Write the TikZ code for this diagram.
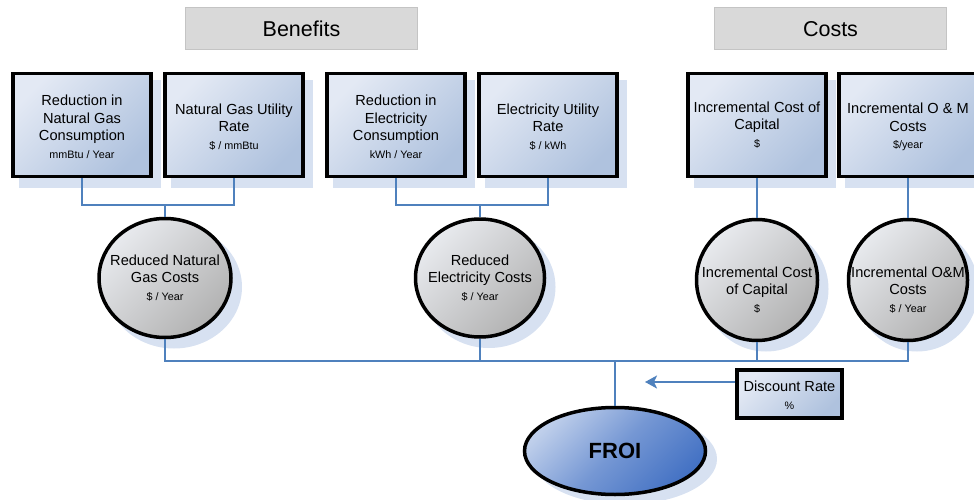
\documentclass[tikz,border=0pt]{standalone}
\usepackage{fontspec}
\setmainfont{Liberation Sans}
\usetikzlibrary{shapes.geometric,arrows.meta}
\definecolor{linkblue}{HTML}{4F81BD}
\definecolor{shadowblue}{HTML}{D7E1F1}
\definecolor{boxlight}{HTML}{E3E9F4}
\definecolor{boxdark}{HTML}{AFC2DE}
\definecolor{disklight}{HTML}{E8EAEE}
\definecolor{diskdark}{HTML}{B2B2B2}
\definecolor{froilight}{HTML}{BFCFEB}
\definecolor{froidark}{HTML}{4472C4}
\definecolor{headfill}{HTML}{D9D9D9}
\definecolor{headline}{HTML}{C4C4C4}
\newcommand{\unitline}[1]{{\fontsize{10.8}{13}\selectfont #1}}
\tikzset{
  inputbox/.style={rectangle, draw=black, line width=3.5pt, inner sep=0pt,
    minimum width=138pt, minimum height=103pt,
    top color=boxlight, bottom color=boxdark, shading angle=45},
  boxshade/.style={rectangle, fill=shadowblue, inner sep=0pt,
    minimum width=142pt, minimum height=107pt},
  diskshape/.style={ellipse, draw=black, line width=3.5pt, inner sep=0pt,
    top color=disklight, bottom color=diskdark, shading angle=45},
  diskshade/.style={ellipse, fill=shadowblue, inner sep=0pt},
  caption/.style={align=center, font=\fontsize{14.6}{17.5}\selectfont, inner sep=0pt},
  header/.style={rectangle, fill=headfill, draw=headline, line width=1pt,
    minimum width=232pt, minimum height=42pt, font=\fontsize{21.5}{25}\selectfont},
  link/.style={draw=linkblue, line width=2pt},
}
\begin{document}
\begin{tikzpicture}[x=1pt,y=-1pt]
\useasboundingbox (0,0) rectangle (974,500);
\clip (0,0) rectangle (974,500);

% section headers
\node[header] (hBen) at (301.5,29) {Benefits};
\node[header] (hCost) at (830.5,29) {Costs};

% drop shadows of the input boxes
\foreach \cx/\nm in {90/s1,242/s2,404/s3,556/s4,765/s5,916/s6}
  \node[boxshade] (\nm) at (\cx,134) {};

% drop shadows of the discs and of FROI
\node[diskshade, minimum width=136pt, minimum height=123pt] (sc1) at (174,287) {};
\node[diskshade, minimum width=133pt, minimum height=122pt] (sc2) at (489,287) {};
\node[diskshade, minimum width=125pt, minimum height=125pt] (sc3) at (766,289) {};
\node[diskshade, minimum width=123pt, minimum height=125pt] (sc4) at (917,289) {};
\node[diskshade, minimum width=184pt, minimum height=91pt] (sfr) at (625,459) {};

% connector levels
\coordinate (gasjoin) at (0,205);
\coordinate (elecjoin) at (0,205);
\coordinate (bus) at (0,361);
\coordinate (tip) at (645,382);

% input boxes
\node[inputbox] (b1) at (82,125) {};
\node[inputbox] (b2) at (234,125) {};
\node[inputbox] (b3) at (396,125) {};
\node[inputbox] (b4) at (548,125) {};
\node[inputbox] (b5) at (757,125) {};
\node[inputbox] (b6) at (908,125) {};

% discs
\node[diskshape, minimum width=132pt, minimum height=119pt] (c1) at (165,278) {};
\node[diskshape, minimum width=129pt, minimum height=118pt] (c2) at (480,278) {};
\node[diskshape, minimum width=121pt, minimum height=121pt] (c3) at (757,280) {};
\node[diskshape, minimum width=119pt, minimum height=121pt] (c4) at (908,280) {};

% result
\node[ellipse, draw=black, line width=3.5pt, inner sep=0pt,
  minimum width=181pt, minimum height=87pt,
  top color=froilight, bottom color=froidark, middle color=froidark!60!froilight,
  shading angle=45,
  font=\bfseries\fontsize{22}{26}\selectfont] (froi) at (615,451) {FROI};

% discount rate input
\node[rectangle, draw=black, line width=3.5pt, inner sep=0pt,
  minimum width=105pt, minimum height=48pt,
  top color=boxlight, bottom color=boxdark, shading angle=45] (disc) at (789.5,394) {};

% connectors
\draw[link] (b1.south) -- (b1.south |- gasjoin) -- (b2.south |- gasjoin) -- (b2.south);
\draw[link] (c1.north |- gasjoin) -- (c1.north);
\draw[link] (b3.south) -- (b3.south |- elecjoin) -- (b4.south |- elecjoin) -- (b4.south);
\draw[link] (c2.north |- elecjoin) -- (c2.north);
\draw[link] (b5.south) -- (c3.north);
\draw[link] (b6.south) -- (c4.north);
\draw[link] (c1.south) -- (c1.south |- bus) -- (c4.south |- bus) -- (c4.south);
\draw[link] (c2.south) -- (c2.south |- bus);
\draw[link] (c3.south) -- (c3.south |- bus);
\draw[link] (froi.north |- bus) -- (froi.north);
\draw[link, -{Stealth[length=12pt,width=13pt,inset=3pt]}] (disc.west |- tip) -- (tip);

% texts
\node[caption] (t1) at (82,127) {Reduction in\\Natural Gas\\Consumption\\\unitline{mmBtu / Year}};
\node[caption] (t2) at (234,127) {Natural Gas Utility\\Rate\\\unitline{\$ / mmBtu}};
\node[caption] (t3) at (396,127) {Reduction in\\Electricity\\Consumption\\\unitline{kWh / Year}};
\node[caption] (t4) at (548,127) {Electricity Utility\\Rate\\\unitline{\$ / kWh}};
\node[caption] (t5) at (757,125) {Incremental Cost of\\Capital\\\unitline{\$}};
\node[caption] (t6) at (908,127) {Incremental O \& M\\Costs\\\unitline{\$/year}};
\node[caption] (tc1) at (165,278) {Reduced Natural\\Gas Costs\\\unitline{\$ / Year}};
\node[caption] (tc2) at (480,278) {Reduced\\Electricity Costs\\\unitline{\$ / Year}};
\node[caption] (tc3) at (757,290) {Incremental Cost\\of Capital\\\unitline{\$}};
\node[caption] (tc4) at (908,290) {Incremental O\&M\\Costs\\\unitline{\$ / Year}};
\node[caption] (td) at (789.5,395) {Discount Rate\\\unitline{\%}};
\end{tikzpicture}
\end{document}
